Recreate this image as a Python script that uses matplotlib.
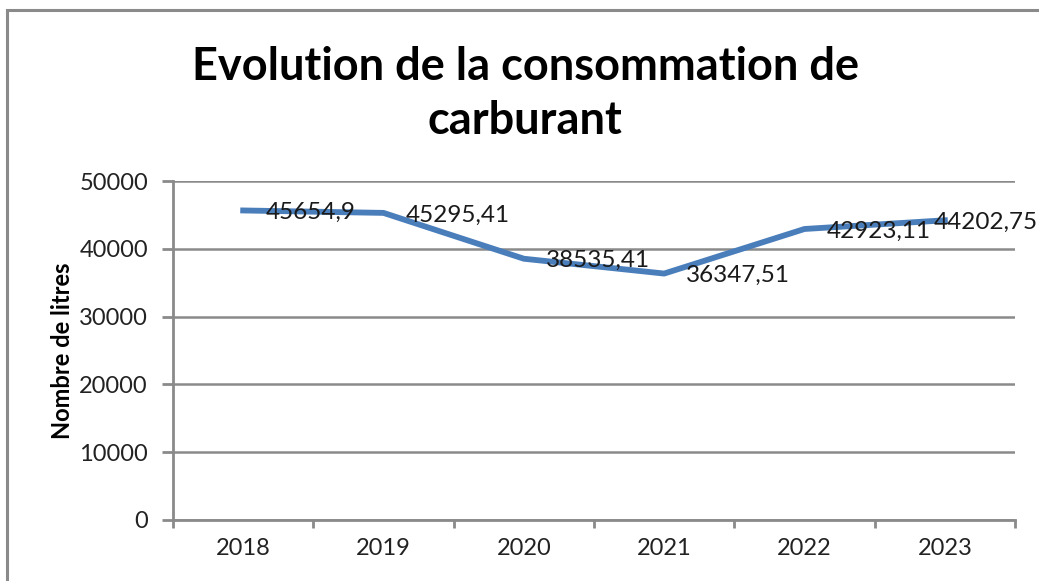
import matplotlib
matplotlib.use("Agg")
import matplotlib.pyplot as plt
from matplotlib.patches import Rectangle

years = ["2018", "2019", "2020", "2021", "2022", "2023"]
values = [45654.9, 45295.41, 38535.41, 36347.51, 42923.11, 44202.75]
labels = ["45654,9", "45295,41", "38535,41", "36347,51", "42923,11", "44202,75"]
yticks = [0, 10000, 20000, 30000, 40000, 50000]

W, H = 1039, 581
fig = plt.figure(figsize=(W / 100, H / 100), dpi=100)
plt.rcParams['font.family'] = ['Lato', 'DejaVu Sans']

# chart frame
fig.patches.append(Rectangle((7 / W, -0.1), 1.2, 1 - 10 / H + 0.1, transform=fig.transFigure,
                             fill=False, edgecolor='#8a8a8a', linewidth=2.2))

ax = fig.add_axes([173 / W, 1 - 520 / H, (1015 - 173) / W, (520 - 181) / H])
x = list(range(len(years)))
ax.plot(x, values, color='#4a7ebb', linewidth=4.2, solid_joinstyle='round', zorder=3)
offsets = [16, 16, 16, 16, 16, -8]
for xi, v, lab, dx in zip(x, values, labels, offsets):
    ax.annotate(lab, (xi, v), xytext=(dx, -1.5), textcoords='offset points',
                ha='left', va='center', fontsize=17.5, color='#1a1a1a', zorder=4,
                annotation_clip=False)

ax.set_xlim(-0.5, len(years) - 0.5)
ax.set_ylim(0, 50000)
ax.set_yticks(yticks)
ax.set_yticklabels([str(t) for t in yticks], fontsize=17, color='#222222')
ax.set_xticks(x)
ax.set_xticklabels(years, fontsize=17, color='#222222')
ax.tick_params(axis='x', length=0, pad=13)
ax.set_xticks([i - 0.5 for i in range(len(years) + 1)], minor=True)
ax.tick_params(axis='x', which='minor', length=6, width=2, color='#8a8a8a', direction='out')
ax.tick_params(axis='y', length=8, width=2, color='#8a8a8a', direction='out', pad=10)
ax.grid(axis='y', color='#8a8a8a', linewidth=1.8)
ax.set_axisbelow(True)
for s in ['top', 'right']:
    ax.spines[s].set_visible(False)
for s in ['left', 'bottom']:
    ax.spines[s].set_color('#8a8a8a')
    ax.spines[s].set_linewidth(2)

ax.set_ylabel("Nombre de litres", fontsize=17, fontweight='bold', labelpad=4)
fig.text(525 / W, 1 - 94 / H, "Evolution de la consommation de\ncarburant", ha='center', va='center',
         fontsize=32.5, fontweight='bold', linespacing=1.38)

fig.savefig("out.png", dpi=100)
